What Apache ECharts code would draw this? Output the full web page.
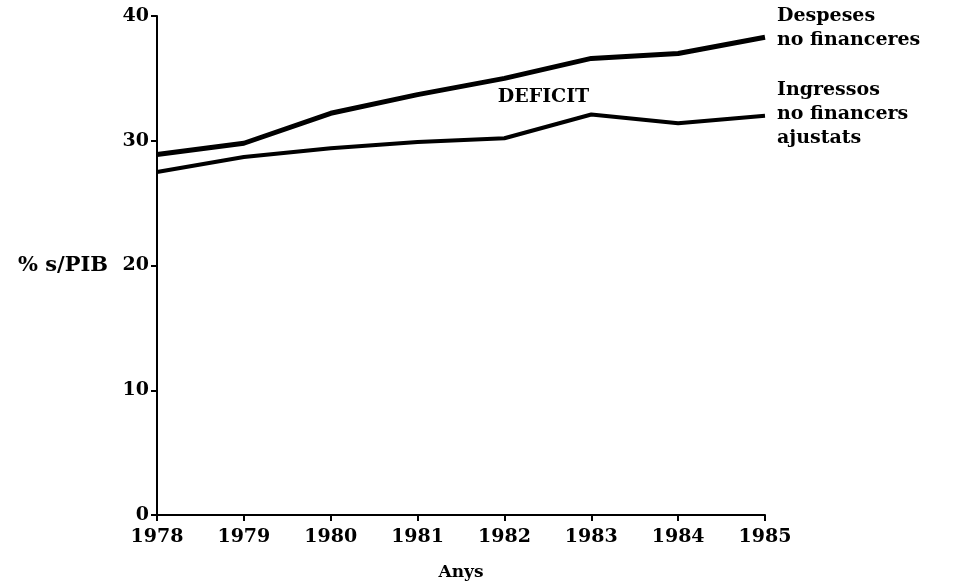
<!DOCTYPE html>
<html>
<head>
<meta charset="utf-8">
<script src="https://cdn.jsdelivr.net/npm/echarts@6/dist/echarts.min.js"></script>
<style>
  html, body { margin: 0; padding: 0; background: #fff; }
  #chart { width: 962px; height: 586px; }
</style>
</head>
<body>
<div id="chart"></div>
<script>
// years on the x axis
const years = [1978, 1979, 1980, 1981, 1982, 1983, 1984, 1985];
// % of GDP
const despeses = [28.9, 29.8, 32.2, 33.7, 35.0, 36.6, 37.0, 38.3];
const ingressos = [27.5, 28.7, 29.4, 29.9, 30.2, 32.1, 31.4, 32.0];
const yTicks = [0, 10, 20, 30, 40];

const font = '"DejaVu Serif", "Liberation Serif", serif';

const chart = echarts.init(document.getElementById('chart'));

const pairs = (vals) => years.map((y, i) => [y, vals[i]]);

chart.setOption({
  backgroundColor: '#fff',
  animation: false,
  grid: { left: 157, right: 197, top: 16, bottom: 71, outerBoundsMode: 'none' },
  xAxis: {
    type: 'value',
    min: 1978,
    max: 1985,
    interval: 1,
    name: 'Anys',
    nameLocation: 'middle',
    nameGap: 49,
    nameTextStyle: { fontFamily: font, fontWeight: 'bold', fontSize: 17, color: '#000' },
    axisLine: { lineStyle: { color: '#000', width: 2 } },
    axisTick: { length: 6, lineStyle: { color: '#000', width: 2 } },
    axisLabel: {
      fontFamily: font, fontWeight: 'bold', fontSize: 19, color: '#000', margin: 13,
      formatter: (v) => String(v)
    },
    splitLine: { show: false }
  },
  yAxis: {
    type: 'value',
    min: yTicks[0],
    max: yTicks[yTicks.length - 1],
    interval: 10,
    name: '% s/PIB',
    nameLocation: 'middle',
    nameRotate: 0,
    nameGap: 49,
    nameTextStyle: { fontFamily: font, fontWeight: 'bold', fontSize: 21, color: '#000' },
    axisLine: { show: true, lineStyle: { color: '#000', width: 2 } },
    axisTick: { show: true, length: 6, lineStyle: { color: '#000', width: 2 } },
    axisLabel: { fontFamily: font, fontWeight: 'bold', fontSize: 19, color: '#000', margin: 8 },
    splitLine: { show: false }
  },
  series: [
    {
      name: 'Despeses\nno financeres',
      type: 'line',
      data: pairs(despeses),
      symbol: 'none',
      lineStyle: { color: '#000', width: 5 },
      endLabel: {
        show: true,
        formatter: '{a}',
        fontFamily: font, fontWeight: 'bold', fontSize: 19, color: '#000',
        lineHeight: 24,
        distance: 12,
        offset: [0, -9]
      },
      markPoint: {
        symbol: 'circle',
        symbolSize: 0,
        data: [{ coord: [1982.45, 33.5] }],
        label: {
          show: true,
          formatter: 'DEFICIT',
          fontFamily: font, fontWeight: 'bold', fontSize: 19, color: '#000'
        }
      }
    },
    {
      name: 'Ingressos\nno financers\najustats',
      type: 'line',
      data: pairs(ingressos),
      symbol: 'none',
      lineStyle: { color: '#000', width: 4 },
      endLabel: {
        show: true,
        formatter: '{a}',
        fontFamily: font, fontWeight: 'bold', fontSize: 19, color: '#000',
        lineHeight: 24,
        distance: 12,
        offset: [0, -2]
      }
    }
  ]
});
</script>
</body>
</html>
